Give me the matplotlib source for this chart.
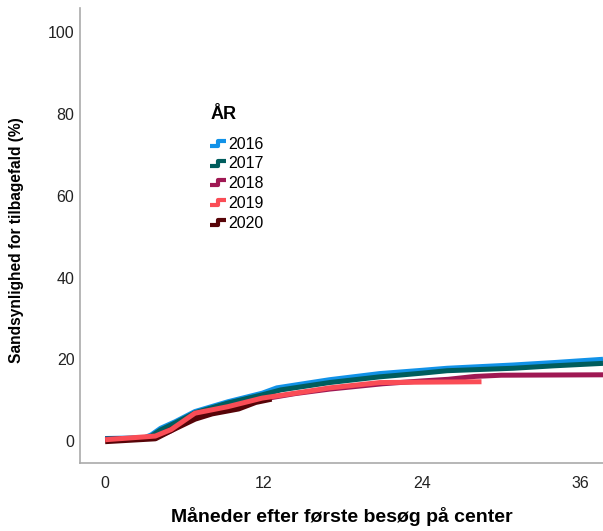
import matplotlib.pyplot as plt
import numpy as np
from matplotlib.path import Path
from matplotlib.lines import Line2D

plt.rcParams['font.family'] = ['Liberation Sans', 'DejaVu Sans']

# data (months, cumulative %)
years = ['2016', '2017', '2018', '2019', '2020']
colors = ['#1192e8', '#005d5d', '#9f1853', '#fa4d56', '#570408']

months_2016 = [0, 3, 3.5, 4.2, 5.3, 6.8, 9.3, 11.9, 13, 14.4, 17, 20.8, 24, 25.9, 30.9, 34, 37.7]
vals_2016 = [0.6, 0.8, 1.5, 3.1, 4.7, 7.2, 9.6, 11.7, 13.0, 13.7, 15.0, 16.5, 17.3, 17.8, 18.6, 19.2, 20.0]

months_2017 = [0, 3, 3.5, 4.2, 5.3, 6.8, 9.3, 11.9, 13.3, 17, 20.8, 24, 25.9, 30.9, 34, 37.7]
vals_2017 = [0.5, 0.7, 1.2, 2.7, 4.4, 6.9, 9.3, 11.3, 12.5, 14.3, 15.7, 16.6, 17.2, 17.8, 18.4, 19.0]

months_2018 = [0, 3.8, 5, 6.8, 8, 10, 12, 14.4, 17, 21, 24, 26, 28, 30, 37.7]
vals_2018 = [0.4, 0.8, 2.5, 6.0, 7.2, 8.6, 10.3, 11.6, 12.7, 14.0, 14.7, 15.1, 15.8, 16.1, 16.2]

months_2019 = [0, 3.8, 5, 6.8, 9.3, 11.9, 14.4, 17, 20.8, 24, 28.5]
vals_2019 = [0.3, 1.2, 2.8, 6.8, 8.4, 10.5, 11.7, 13.0, 14.3, 14.4, 14.5]

months_2020 = [0, 3.8, 5, 6.8, 8.1, 10.1, 11.4, 12.6]
vals_2020 = [0.0, 0.7, 2.7, 5.5, 6.8, 8.0, 9.6, 10.4]

xs = [months_2016, months_2017, months_2018, months_2019, months_2020]
ys = [vals_2016, vals_2017, vals_2018, vals_2019, vals_2020]
widths = [3.6, 3.6, 3.6, 3.6, 4.6]
zorders = [2, 3, 4, 6, 5]

fig = plt.figure(figsize=(6.03, 5.31), dpi=100)
ax = fig.add_axes([0.1327, 0.128, 0.8673, 0.857])

for x, y, c, w, z in zip(xs, ys, colors, widths, zorders):
    ax.plot(x, y, color=c, lw=w, zorder=z, solid_capstyle='butt', solid_joinstyle='round')

ax.set_xlim(-1.9, 37.7)
ax.set_ylim(-5.4, 106)
ax.set_xticks([0, 12, 24, 36])
ax.set_yticks([0, 20, 40, 60, 80, 100])
ax.tick_params(length=0, labelsize=11.5, labelcolor='#222222')
ax.tick_params(axis='y', pad=4)
ax.tick_params(axis='x', pad=9)
for s in ['top', 'right']:
    ax.spines[s].set_visible(False)
for s in ['left', 'bottom']:
    ax.spines[s].set_color('#aaaaaa')
    ax.spines[s].set_linewidth(1.2)

ax.set_xlabel('Måneder efter første besøg på center', fontsize=14, fontweight='bold', labelpad=12)
ax.set_ylabel('Sandsynlighed for tilbagefald (%)', fontsize=11.2, fontweight='bold')
ax.yaxis.set_label_coords(-0.108, 0.49)

# step-shaped legend glyph
step = Path([(-1, -0.3), (0, -0.3), (0, 0.3), (1, 0.3)],
            [Path.MOVETO, Path.LINETO, Path.LINETO, Path.LINETO])
handles = [Line2D([], [], linestyle='none', marker=step, markersize=12,
                  markerfacecolor='none', markeredgecolor=c, markeredgewidth=3)
           for c in colors]
leg = ax.legend(handles, years, title='ÅR', loc='upper left',
                bbox_to_anchor=(0.222, 0.817), frameon=False, fontsize=11.5,
                handlelength=1.0, handletextpad=0.1, labelspacing=0.3,
                title_fontproperties={'weight': 'bold', 'size': 13})
leg._legend_box.align = 'left'
leg._legend_box.sep = 10

fig.savefig('out.png', dpi=100)
